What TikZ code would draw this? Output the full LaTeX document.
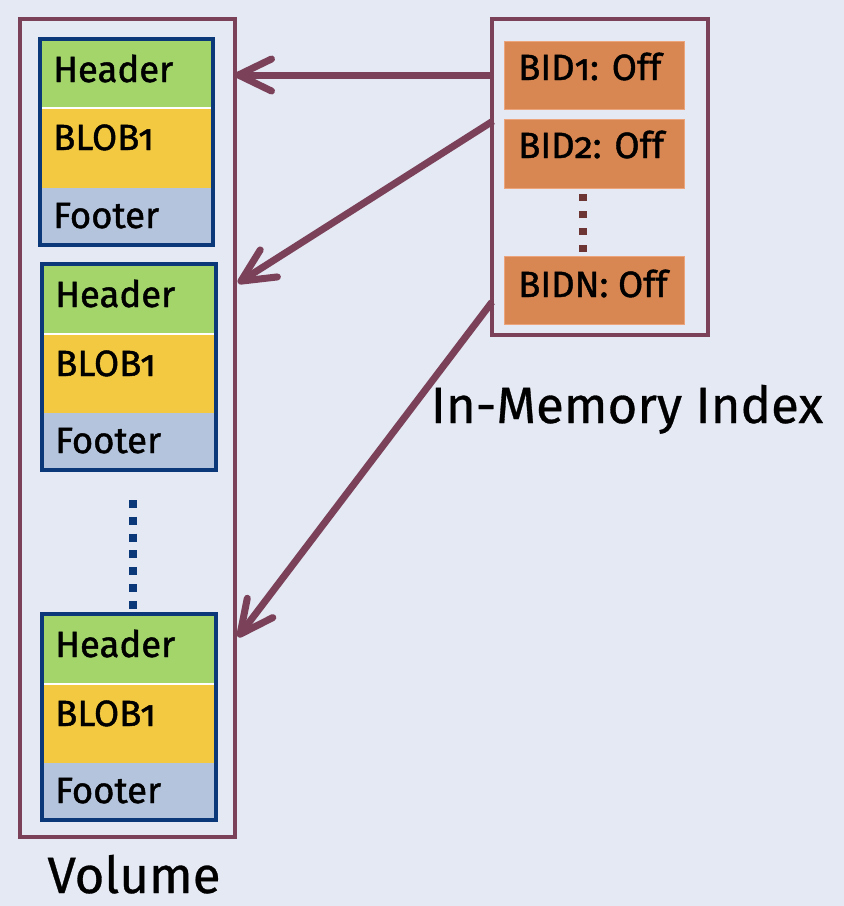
\documentclass[tikz,border=0pt]{standalone}
\usepackage{fontspec}
\setmainfont{Fira Sans}[Numbers=OldStyle]
\newfontfamily\heavyfont{Fira Sans}[Numbers=OldStyle,FakeBold=1.2]
\newfontfamily\midfont{Fira Sans}[Numbers=OldStyle,FakeBold=0.6]
\usetikzlibrary{arrows.meta}
\definecolor{bg}{HTML}{E4E9F3}
\definecolor{maroon}{HTML}{7A4159}
\definecolor{hdgreen}{HTML}{A3D56B}
\definecolor{blobyel}{HTML}{F4C942}
\definecolor{ftblue}{HTML}{B4C4DD}
\definecolor{blkblue}{HTML}{0A3878}
\definecolor{bidor}{HTML}{D98752}
\definecolor{bidedge}{HTML}{EBA47C}
\definecolor{dotbrown}{HTML}{6E3535}
\begin{document}
\begin{tikzpicture}[x=1pt,y=-1pt,
  region/.style={rectangle,inner sep=0pt,outer sep=0pt,anchor=north west},
  frame/.style={region,draw=maroon,line width=3.2pt},
  blkframe/.style={region,draw=blkblue,line width=3.2pt},
  celltext/.style={anchor=base west,inner sep=0pt,font=\heavyfont\fontsize{36.5}{40}\selectfont},
  bidbox/.style={region,fill=bidor,draw=bidedge,line width=1pt,minimum width=180pt},
  bidtext/.style={anchor=base west,inner sep=0pt,font=\heavyfont\fontsize{36.5}{40}\selectfont},
  title/.style={anchor=base,inner sep=0pt,font=\midfont\fontsize{51}{54}\selectfont},
  arr/.style={draw=maroon,line width=7pt,-{Straight Barb[length=33pt,width=32pt,round]}}]
\fill[bg] (0,0) rectangle (844,906);
\useasboundingbox (0,0) rectangle (844,906);

% Volume and index frames
\node[frame,minimum width=215pt,minimum height=818pt] (vol) at (20,19) {};
\node[frame,minimum width=216pt,minimum height=316pt] (idx) at (492,19) {};

% Blocks
\foreach \i/\L/\T/\W/\h/\b/\B in {1/40/39/173/108/188/245, 2/42/264/174/334/413/470, 3/42/614/174/684/763/820}{
  \node[region,fill=hdgreen,minimum width=\W pt,minimum height={(\h-\T)*1pt}] (hd\i) at (\L,\T) {};
  \node[region,fill=blobyel,minimum width=\W pt,minimum height={(\b-\h)*1pt}] (bl\i) at (\L,\h) {};
  \node[region,fill=ftblue,minimum width=\W pt,minimum height={(\B-\b)*1pt}] (ft\i) at (\L,\b) {};
  \draw[white,line width=1.5pt] (hd\i.south west) -- (hd\i.south east);
  \node[blkframe,minimum width=\W pt,minimum height={(\B-\T)*1pt}] (blk\i) at (\L,\T) {};
  \node[celltext] (hdt\i) at (\L+13,\T+43) {Header};
  \node[celltext] (blt\i) at (\L+13,\h+42) {BLOB1};
  \node[celltext] (ftt\i) at (\L+13,\b+40) {Footer};
}

% Dotted continuation in volume
\draw[blkblue,line width=8pt,dash pattern=on 8pt off 8.8pt]
  ([xshift=4pt,yshift=-30pt]blk2.south) -- ([xshift=4pt,yshift=5pt]blk3.north);

% Index entries
\node[bidbox,minimum height=68pt] (bid1) at (504,41) {};
\node[bidbox,minimum height=69pt] (bid2) at (504,119) {};
\node[bidbox,minimum height=68pt] (bidn) at (504,256) {};
\node[bidtext] (bidt1) at (518,80) {BID1: Off};
\node[bidtext] (bidt2) at (518,158) {BID2: Off};
\node[bidtext] (bidtn) at (518,297) {BIDN: Off};
\draw[dotbrown,line width=7.3pt,dash pattern=on 7.3pt off 9.7pt]
  ([xshift=-11pt,yshift=-6pt]bid2.south) -- ([xshift=-11pt,yshift=4pt]bidn.north);

% Labels
\node[title] (vollab) at (134,893) {Volume};
\node[title] (idxlab) at (627,423) {In-Memory Index};

% Arrows
\coordinate (s2) at (493,121);
\coordinate (t2) at (238,283);
\coordinate (s3) at (492,302);
\coordinate (t3) at (238,637);
\draw[arr] (idx.west |- bid1.center) -- (vol.east |- bid1.center);
\draw[arr] (s2) -- (t2);
\draw[arr] (s3) -- (t3);
\end{tikzpicture}
\end{document}
